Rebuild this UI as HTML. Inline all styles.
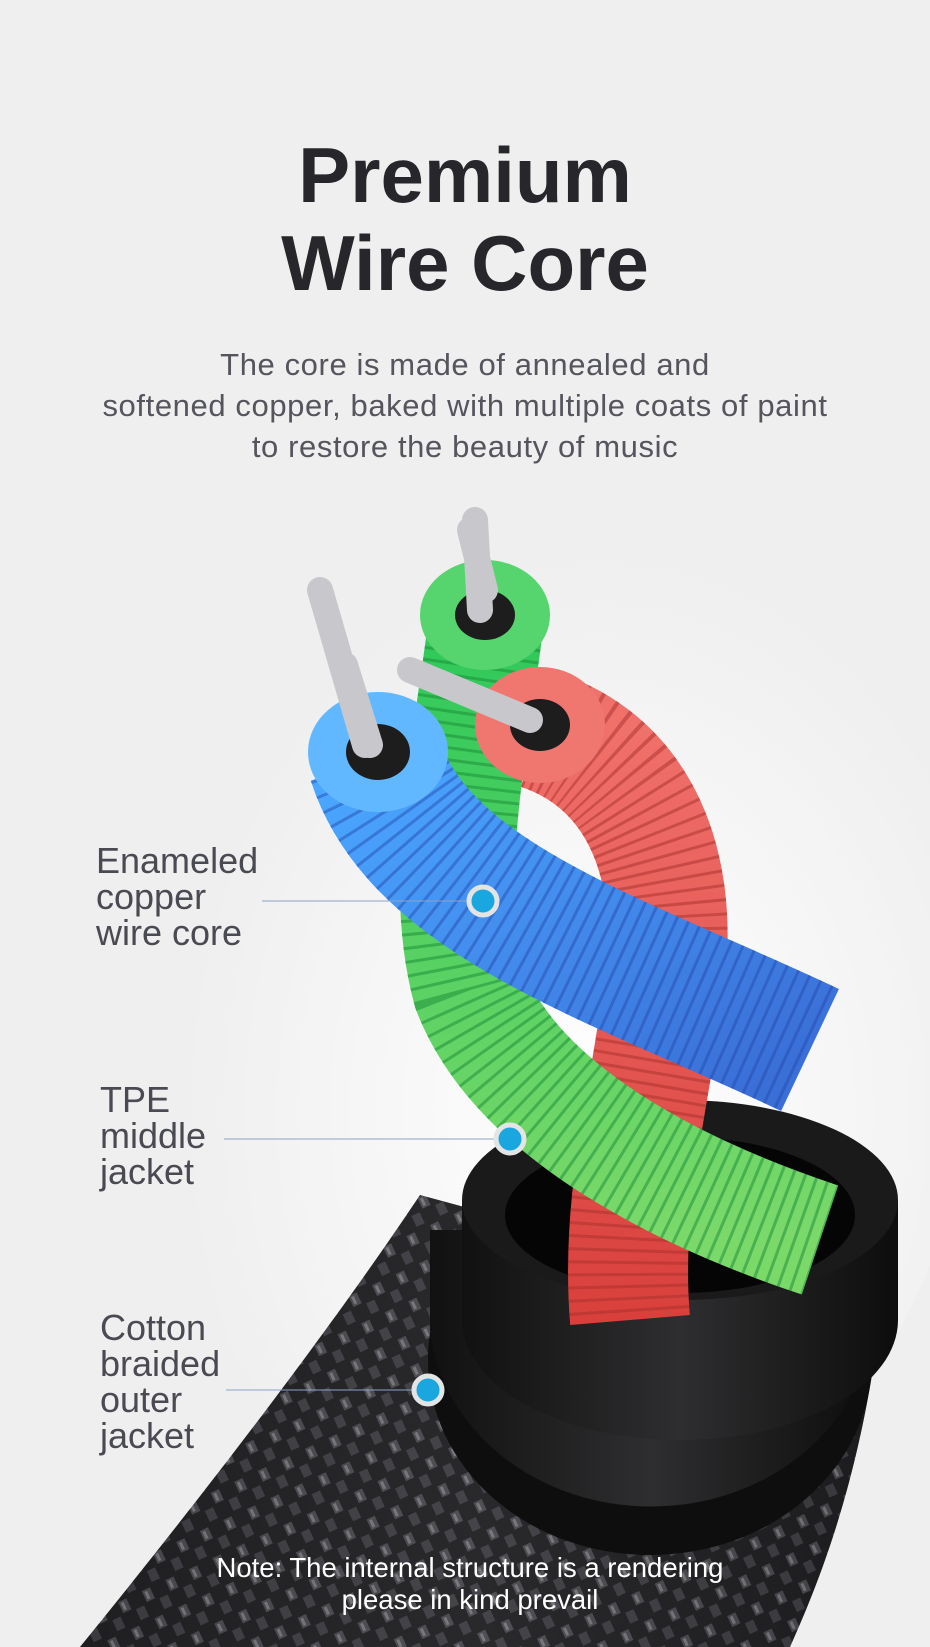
<!DOCTYPE html>
<html><head><meta charset="utf-8"><style>
html,body{margin:0;padding:0}
body{width:930px;height:1647px;overflow:hidden;background:#efefef;position:relative;font-family:"Liberation Sans",sans-serif}
.t{position:absolute;left:0;width:930px;text-align:center;color:#27272b;font-weight:bold;font-size:78px;line-height:90px}
.s{position:absolute;left:0;width:930px;text-align:center;color:#55555d;font-size:31px;line-height:41px;letter-spacing:0.6px}
.l{position:absolute;color:#4a4a52;font-size:36px;line-height:36px}
.n{position:absolute;left:0;width:940px;text-align:center;color:#fff;font-size:27.5px;line-height:32px}
svg{position:absolute;left:0;top:0}
</style></head><body>
<svg width="930" height="1647" viewBox="0 0 930 1647">
<defs>
<radialGradient id="bg" cx="0.55" cy="0.6" r="0.5"><stop offset="0" stop-color="#fff"/><stop offset="1" stop-color="#efefef"/></radialGradient>
<linearGradient id="br" x1="0" y1="0" x2="1" y2="0"><stop offset="0" stop-color="#1c1c1e"/><stop offset="0.5" stop-color="#3a3a3e"/><stop offset="1" stop-color="#151517"/></linearGradient>
<pattern id="weave" width="26" height="30" patternUnits="userSpaceOnUse" patternTransform="rotate(-25)">
<rect width="26" height="30" fill="#202022"/><rect x="2" y="2" width="9" height="12" fill="#5a5a60"/><rect x="15" y="16" width="9" height="12" fill="#4a4a50"/><rect x="4" y="4" width="3" height="8" fill="#9a9aa0"/></pattern>
<linearGradient id="jk" x1="0" y1="0" x2="1" y2="0"><stop offset="0" stop-color="#111"/><stop offset="0.5" stop-color="#2e2e30"/><stop offset="1" stop-color="#0d0d0d"/></linearGradient>
<linearGradient id="bl" x1="0" y1="0" x2="1" y2="1"><stop offset="0" stop-color="#4aa6ff"/><stop offset="1" stop-color="#3a6fd8"/></linearGradient>
<linearGradient id="gr" x1="0" y1="0" x2="0" y2="1"><stop offset="0" stop-color="#2fc85a"/><stop offset="1" stop-color="#7bd96a"/></linearGradient>
<linearGradient id="rd" x1="0" y1="0" x2="0" y2="1"><stop offset="0" stop-color="#f0706a"/><stop offset="1" stop-color="#d9403c"/></linearGradient>
</defs>
<ellipse cx="560" cy="1000" rx="420" ry="560" fill="url(#bg)"/>
<path d="M80 1647 C240 1450 350 1300 420 1195 L880 1320 C860 1480 820 1580 790 1647 Z" fill="url(#weave)"/>
<path d="M80 1647 C240 1450 350 1300 420 1195 L880 1320 C860 1480 820 1580 790 1647 Z" fill="url(#br)" opacity="0.35"/>
<ellipse cx="650" cy="1360" rx="222" ry="195" fill="#0e0e0f"/>
<path d="M430 1230 L430 1330 A222 195 0 0 0 872 1330 L872 1230 Z" fill="url(#jk)"/>
<path d="M462 1200 L462 1320 A218 120 0 0 0 898 1320 L898 1200 Z" fill="url(#jk)"/>
<ellipse cx="680" cy="1200" rx="218" ry="100" fill="#1a1a1b"/>
<ellipse cx="680" cy="1215" rx="175" ry="78" fill="#050505"/>
<path d="M540 730 C630 760 680 850 665 980 C650 1100 620 1200 630 1320" stroke="url(#rd)" stroke-width="120" fill="none"/>
<path d="M540 730 C630 760 680 850 665 980 C650 1100 620 1200 630 1320" stroke="#a8302c" stroke-width="120" fill="none" stroke-dasharray="3 9" opacity="0.5"/>
<path d="M485 630 C470 750 440 880 470 990 C520 1120 700 1200 820 1240" stroke="url(#gr)" stroke-width="115" fill="none"/>
<path d="M485 630 C470 750 440 880 470 990 C520 1120 700 1200 820 1240" stroke="#1a8a36" stroke-width="115" fill="none" stroke-dasharray="3 9" opacity="0.5"/>
<path d="M375 760 C420 900 620 960 810 1050" stroke="url(#bl)" stroke-width="135" fill="none"/>
<path d="M375 760 C420 900 620 960 810 1050" stroke="#2346a8" stroke-width="135" fill="none" stroke-dasharray="3 9" opacity="0.45"/>
<ellipse cx="485" cy="615" rx="65" ry="55" fill="#56d46e"/><ellipse cx="485" cy="615" rx="30" ry="25" fill="#1d1d1d"/>
<ellipse cx="540" cy="725" rx="65" ry="58" fill="#f07670"/><ellipse cx="540" cy="725" rx="30" ry="26" fill="#1d1d1d"/>
<ellipse cx="378" cy="752" rx="70" ry="60" fill="#62b8ff"/><ellipse cx="378" cy="752" rx="32" ry="28" fill="#1d1d1d"/>
<g stroke="#c8c8cc" stroke-width="26" stroke-linecap="round">
<path d="M480 610 L475 520"/><path d="M485 590 L470 530"/>
<path d="M365 745 L320 590"/><path d="M370 745 L345 665"/>
<path d="M530 720 L410 670"/>
</g>
<g stroke="#8aa4c8" stroke-width="1"><line x1="262" y1="901" x2="470" y2="901"/><line x1="224" y1="1139" x2="497" y2="1139"/><line x1="226" y1="1390" x2="415" y2="1390"/></g>
<g fill="#1aa7e0" stroke="#e4e4e4" stroke-width="5">
<circle cx="483" cy="901" r="14"/><circle cx="510" cy="1139" r="14"/><circle cx="428" cy="1390" r="14"/></g>
</svg>
<div class="t" style="top:130px">Premium</div>
<div class="t" style="top:218px">Wire Core</div>
<div class="s" style="top:344px">The core is made of annealed and</div>
<div class="s" style="top:385px">softened copper, baked with multiple coats of paint</div>
<div class="s" style="top:426px">to restore the beauty of music</div>
<div class="l" style="left:96px;top:843px">Enameled<br>copper<br>wire core</div>
<div class="l" style="left:100px;top:1082px">TPE<br>middle<br>jacket</div>
<div class="l" style="left:100px;top:1310px">Cotton<br>braided<br>outer<br>jacket</div>
<div class="n" style="top:1552px">Note: The internal structure is a rendering</div>
<div class="n" style="top:1584px">please in kind prevail</div>
</body></html>
